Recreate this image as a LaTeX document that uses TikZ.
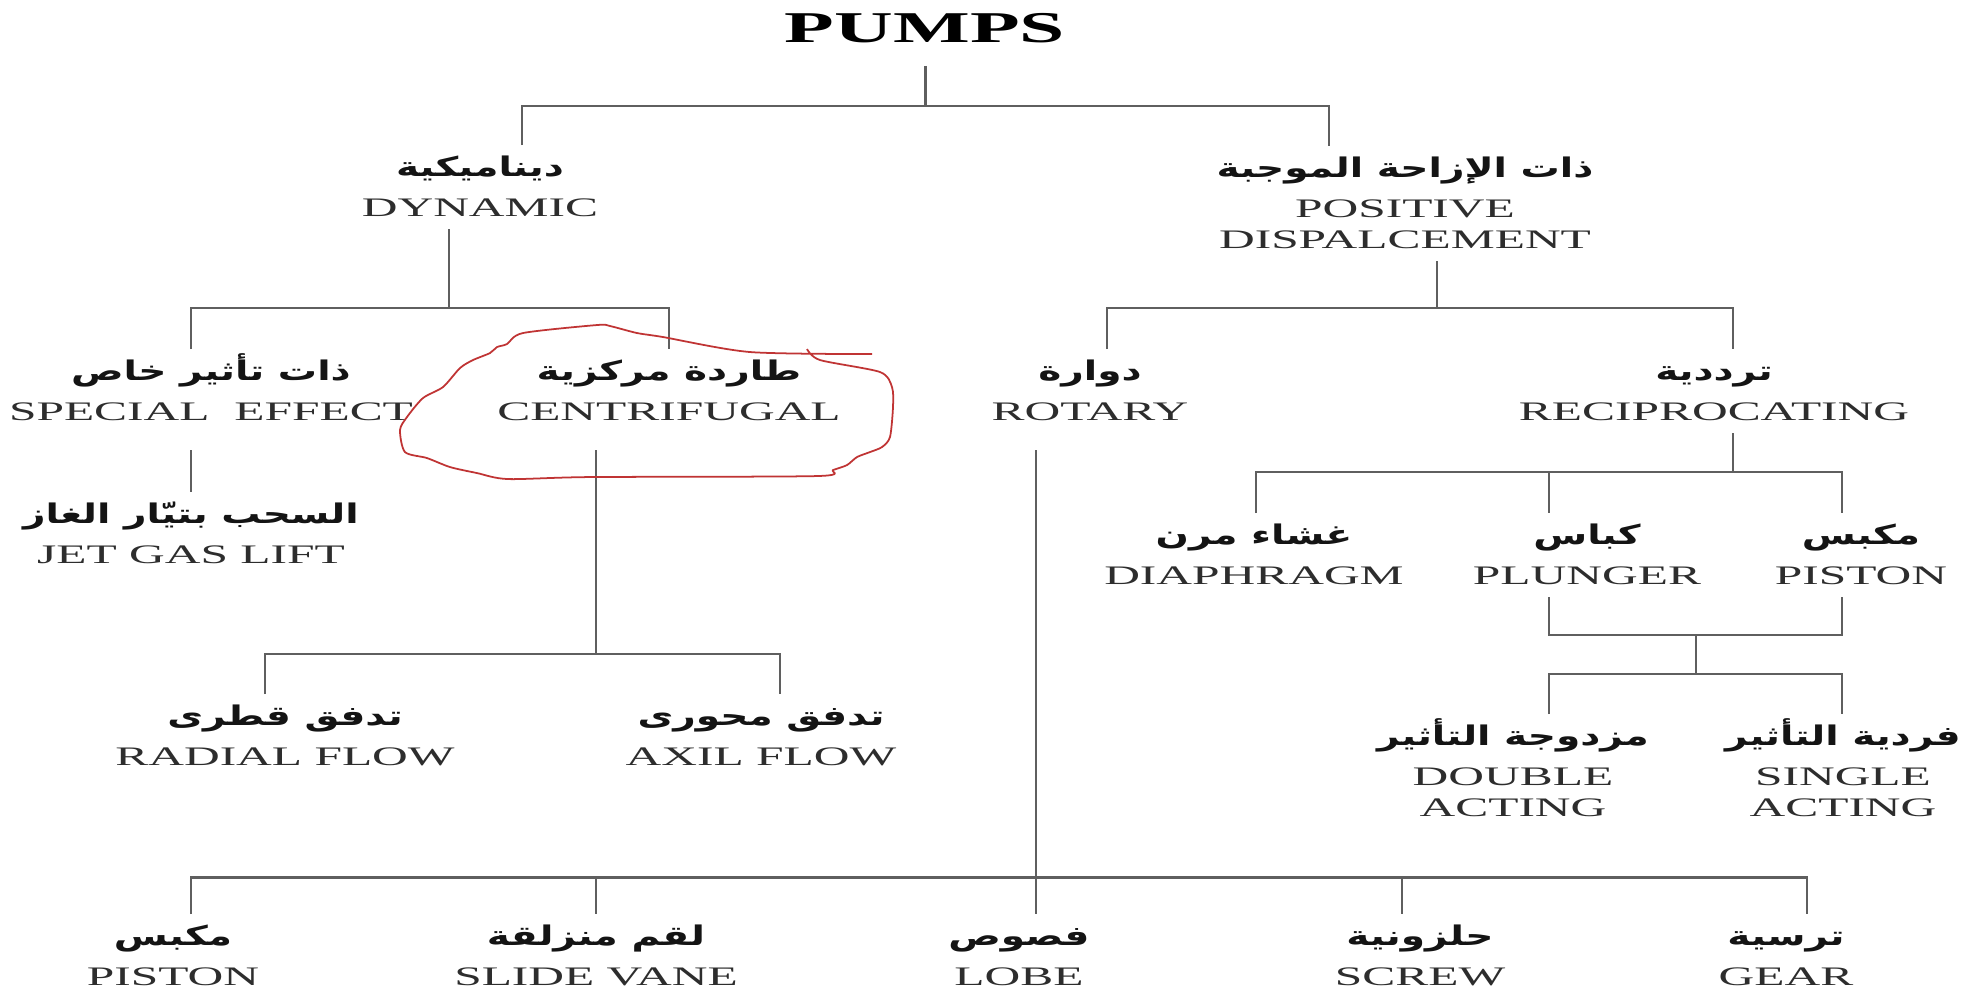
\documentclass[tikz,border=0pt]{standalone}
\usepackage{fontspec}
\setmainfont{Liberation Serif}
\newfontfamily\arabicfont[Script=Arabic]{DejaVu Sans}
\TeXXeTstate=1
\usepackage{tikz}
\usetikzlibrary{positioning,calc}
\definecolor{LineGray}{RGB}{95,95,95}
\definecolor{TextGray}{RGB}{45,45,45}
\definecolor{PenRed}{RGB}{192,52,52}
% arabic line: fixed height so that every label sits on the same baselines
\newcommand{\arab}[1]{\smash{\scalebox{0.78}[1]{\arabicfont\bfseries\fontsize{7.7}{9}\selectfont
  \color{black!92}\beginR #1\endR}}\rule[-0.5mm]{0pt}{2.3mm}}
\tikzset{
  lbl/.style={transform shape, align=center, inner sep=0pt, outer xsep=0pt, outer ysep=1.3mm,
    anchor=north, text=TextGray, font=\fontsize{7.6}{8.82}\selectfont},
  ttl/.style={transform shape, inner sep=0pt, text=black, font=\bfseries\fontsize{12.5}{14}\selectfont},
  tree/.style={draw=LineGray, line width=0.8pt},
  pen/.style={draw=PenRed, line width=0.5pt, line join=round},
}
\begin{document}
\begin{tikzpicture}[x=0.0054054cm, y=-0.01cm, xscale=1.85]
  \fill[white] (0,0) rectangle (1972,992);
  \useasboundingbox (0,0) rectangle (1972,992);
  % title and first split
  \node[ttl, anchor=north] (pumps) at (925,13) {PUMPS};
  \node[lbl] (dyn) at (480,145) {\arab{ديناميكية}\\[2.56pt]DYNAMIC};
  \node[lbl] (posdis) at (1405,146) {\arab{ذات الإزاحة الموجبة}\\[2.56pt]POSITIVE\\DISPALCEMENT};
  % second level
  \node[lbl] (special) at (211,349) {\arab{ذات تأثير خاص}\\[2.56pt]SPECIAL\ \ EFFECT};
  \node[lbl] (centri) at (669,349) {\arab{طاردة مركزية}\\[2.56pt]CENTRIFUGAL};
  \node[lbl] (rotary) at (1090,349) {\arab{دوارة}\\[2.56pt]ROTARY};
  \node[lbl] (recip) at (1714,349) {\arab{ترددية}\\[2.56pt]RECIPROCATING};
  % dynamic leaves
  \node[lbl] (jetgas) at (191,492) {\arab{السحب بتيّار الغاز}\\[2.56pt]JET GAS LIFT};
  \node[lbl] (radial) at (285,694) {\arab{تدفق قطرى}\\[2.56pt]RADIAL FLOW};
  \node[lbl] (axil) at (761,694) {\arab{تدفق محورى}\\[2.56pt]AXIL FLOW};
  % reciprocating
  \node[lbl] (diaph) at (1254,513) {\arab{غشاء مرن}\\[2.56pt]DIAPHRAGM};
  \node[lbl] (plunger) at (1587,513) {\arab{كباس}\\[2.56pt]PLUNGER};
  \node[lbl] (pistonR) at (1861,513) {\arab{مكبس}\\[2.56pt]PISTON};
  \node[lbl] (double) at (1513,714) {\arab{مزدوجة التأثير}\\[2.56pt]DOUBLE\\ACTING};
  \node[lbl] (single) at (1843,714) {\arab{فردية التأثير}\\[2.56pt]SINGLE\\ACTING};
  % rotary
  \node[lbl] (pistonB) at (173,914) {\arab{مكبس}\\[2.56pt]PISTON};
  \node[lbl] (vane) at (596,914) {\arab{لقم منزلقة}\\[2.56pt]SLIDE VANE};
  \node[lbl] (lobe) at (1019,914) {\arab{فصوص}\\[2.56pt]LOBE};
  \node[lbl] (screw) at (1420,914) {\arab{حلزونية}\\[2.56pt]SCREW};
  \node[lbl] (gear) at (1786,914) {\arab{ترسية}\\[2.56pt]GEAR};

  % tree lines
  \draw[tree] (pumps.south) ++(0,22) -- ++(0,41);
  \draw[tree] (522,0 |- dyn.north) |- (1329,106) -- (1329,0 |- posdis.north);
  \draw[tree] (449,0 |- dyn.south) |- (669,308) -- (669,0 |- centri.north);
  \draw[tree] (191,0 |- special.north) |- (449,308);
  \draw[tree] (1437,0 |- posdis.south) |- (1733,308) -- (1733,0 |- recip.north);
  \draw[tree] (1107,0 |- rotary.north) |- (1437,308);
  \draw[tree] (191,0 |- special.south) ++(0,17) -- (191,0 |- jetgas.north);
  \draw[tree] (596,0 |- centri.south) ++(0,17) |- (780,654) -- (780,0 |- axil.north);
  \draw[tree] (265,0 |- radial.north) |- (596,654);
  \draw[tree] (1036,0 |- rotary.south) ++(0,17) -- (1036,0 |- lobe.north);
  \draw[tree] (191,0 |- pistonB.north) |- (1807,877) -- (1807,0 |- gear.north);
  \foreach \n/\x in {vane/596, screw/1402}
    \draw[tree] (\x,877) -- (\x,0 |- \n.north);
  \draw[tree] (1733,0 |- recip.south) |- (1842,472) -- (1842,0 |- pistonR.north);
  \draw[tree] (1256,0 |- diaph.north) |- (1733,472);
  \draw[tree] (1549,472) -- (1549,0 |- plunger.north);
  \draw[tree] (1549,0 |- plunger.south) |- (1842,635) -- (1842,0 |- pistonR.south);
  \draw[tree] (1696,635) -- (1696,674);
  \draw[tree] (1549,0 |- double.north) |- (1842,674) -- (1842,0 |- single.north);

  % hand-drawn red ring round the centrifugal branch
  \draw[pen] plot[smooth, tension=0.45] coordinates {
    (807,349) (820,360) (880,372) (892,387) (893,407) (890,437) (882,447) (870,452)
    (857,457) (847,465) (833,470) (817,476) (590,477) (508,479) (477,473) (450,467)
    (427,458) (405,452) (400,430) (407,417) (423,398) (443,387) (460,368) (473,360)
    (490,353) (497,347) (507,344) (523,333) (597,325) (610,326) (637,333) (663,337)
    (750,352) (872,354)};
\end{tikzpicture}
\end{document}
